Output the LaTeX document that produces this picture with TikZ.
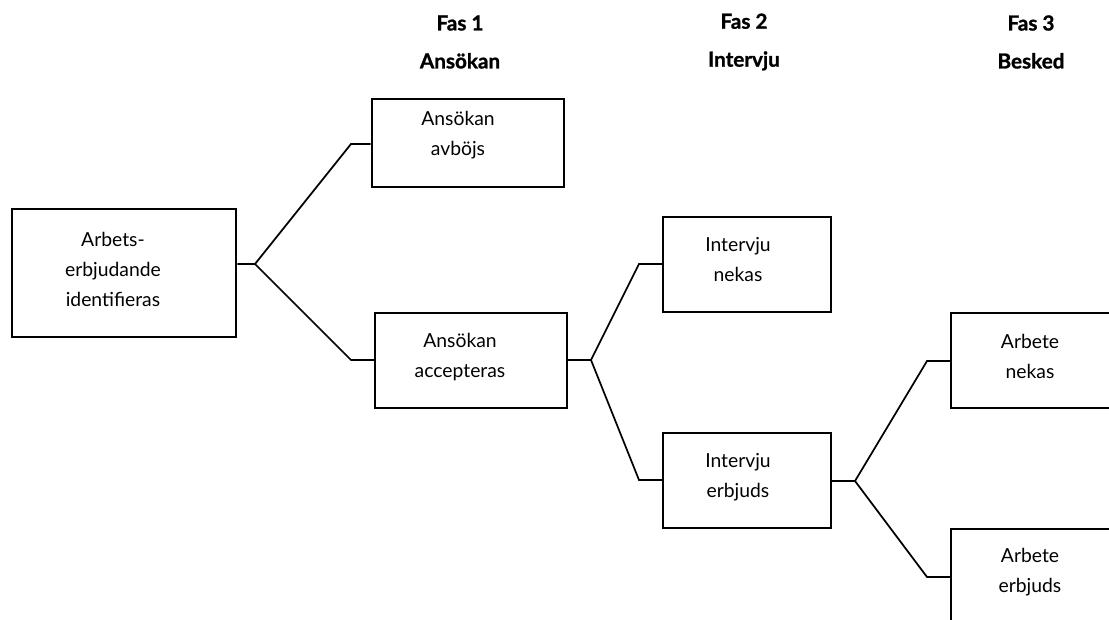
\documentclass[tikz,border=0pt]{standalone}
\usepackage{fontspec}
\setmainfont{Lato}
\newfontfamily\headfont[BoldFeatures={FakeBold=1.2}]{Lato}
\begin{document}
\begin{tikzpicture}[x=0.75pt,y=-0.75pt,
  box/.style={draw,line width=1.4pt,inner sep=0pt,minimum width=#1},
  box/.default=144pt,
  thickbox/.style={line width=2.2pt},
  txt/.style={align=center,font=\fontsize{14.5}{22.5}\selectfont,inner sep=0pt},
  head/.style={align=center,font=\headfont\fontsize{15.5}{28.5}\selectfont\bfseries,inner sep=0pt},
  conn/.style={line width=1.3pt,line join=miter}]
\clip (0,0) rectangle (1109,620);
% boxes
\node[box=168pt,thickbox,minimum height=96pt] (b1) at (124,273) {};
\node[box=144pt,thickbox,minimum height=66pt] (b2) at (468,143) {};
\node[box=144pt,minimum height=71.25pt] (b3) at (471,360.5) {};
\node[box=126pt,minimum height=71.25pt] (b4) at (747,264.5) {};
\node[box=126pt,minimum height=71.25pt] (b5) at (747,480.5) {};
\node[box=144pt,minimum height=71.25pt] (b6) at (1047,360.5) {};
\node[box=144pt,minimum height=71.25pt] (b7) at (1047,576.5) {};
% texts
\node[txt] (t1) at (113,269) {Arbets-\\erbjudande\\identifieras};
\node[txt] (t2) at (458,135.5) {Ansökan\\avböjs};
\node[txt] (t3) at (460,357) {Ansökan\\accepteras};
\node[txt] (t4) at (738,260) {Intervju\\nekas};
\node[txt] (t5) at (738,477) {Intervju\\erbjuds};
\node[txt] (t6) at (1030,356) {Arbete\\nekas};
\node[txt] (t7) at (1030,572) {Arbete\\erbjuds};
% headings
\node[head] (h1) at (460,42) {Fas 1\\Ansökan};
\node[head] (h2) at (744,42) {Fas 2\\Intervju};
\node[head] (h3) at (1031,42) {Fas 3\\Besked};
% connectors
\coordinate (s1) at (255,264);
\coordinate (k1) at (351,144);
\coordinate (k2) at (351,360);
\coordinate (s2) at (591,360);
\coordinate (k3) at (639,264);
\coordinate (k4) at (639,480);
\coordinate (s3) at (855,481);
\coordinate (k5) at (927,361);
\coordinate (k6) at (927,577);
\draw[conn] (b1.east |- s1) -- (s1) -- (k1) -- (k1 -| b2.west);
\draw[conn] (s1) -- (k2) -- (k2 -| b3.west);
\draw[conn] (b3.east |- s2) -- (s2) -- (k3) -- (k3 -| b4.west);
\draw[conn] (s2) -- (k4) -- (k4 -| b5.west);
\draw[conn] (b5.east |- s3) -- (s3) -- (k5) -- (k5 -| b6.west);
\draw[conn] (s3) -- (k6) -- (k6 -| b7.west);
\end{tikzpicture}
\end{document}
